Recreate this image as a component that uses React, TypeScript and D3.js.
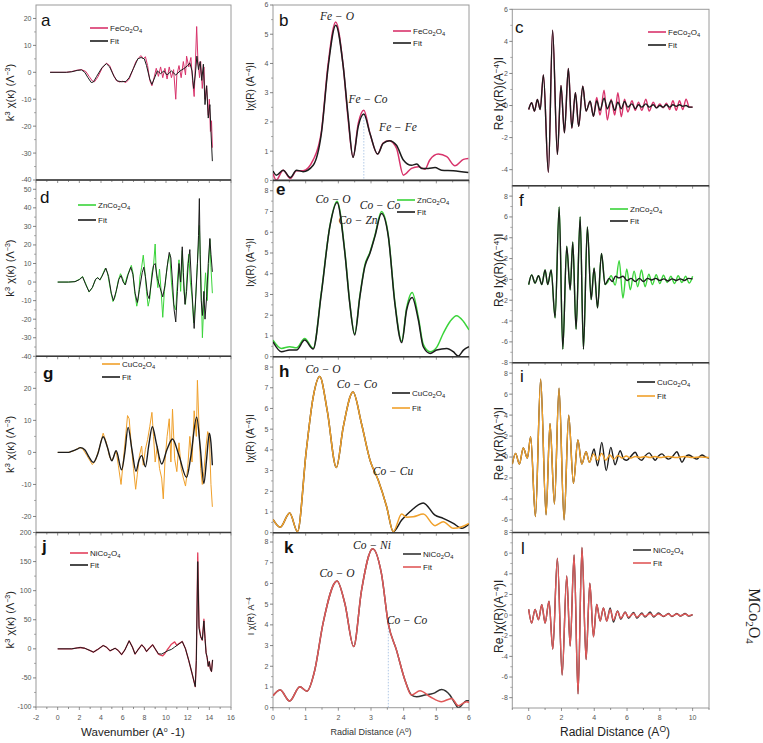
import React from "react";
import * as d3 from "d3";

type Pt = [number, number];

// ---------------- k-space  k^3 chi(k) ----------------
const feK: Pt[] = [[-0.7,0],[0.8,0],[1.3,0.3],[1.8,0.8],[2.2,1.0],[2.6,0.3],[2.9,-1.5],[3.2,-3.2],[3.4,-3.5],[3.7,-1.8],[4.1,1.5],[4.5,3.4],[4.8,2.5],[5.1,-0.5],[5.4,-3.0],[5.7,-3.6],[6.0,-3.3],[6.3,-3.8],[6.6,-2.5],[6.9,0.5],[7.2,3.8],[7.5,5.5],[7.7,6.2],[7.9,5.0],[8.1,5.8],[8.3,2.5],[8.5,-3.0],[8.7,-5.0],[8.9,-2.0],[9.1,1.5],[9.3,-1.5],[9.5,2.0],[9.7,-2.0],[9.9,1.5],[10.1,-2.5],[10.3,2.0],[10.5,-2.0],[10.7,1.0],[10.9,-10],[11.0,-1.0],[11.2,2.5],[11.4,-2.0],[11.6,4.0],[11.8,-1.0],[11.9,6.0],[12.1,2.0],[12.3,5.5],[12.45,-3],[12.6,-9],[12.7,2],[12.83,17],[12.95,4],[13.1,-2],[13.2,4],[13.35,-6],[13.5,2],[13.6,-10],[13.75,-5],[13.9,-16],[14.0,-10],[14.1,-22],[14.2,-18],[14.28,-28]];
const feKFit: Pt[] = [[-0.7,0],[0.8,0],[1.3,0.2],[1.8,0.7],[2.2,0.9],[2.5,0],[2.8,-2.0],[3.1,-3.8],[3.3,-3.6],[3.6,-1.5],[4.1,1.8],[4.5,3.2],[4.8,2.0],[5.2,-1.5],[5.5,-3.2],[5.9,-3.5],[6.3,-3.4],[6.6,-2.0],[7.0,1.5],[7.4,5.0],[7.7,5.5],[8.0,5.0],[8.2,2.5],[8.5,-2.5],[8.7,-4.5],[8.9,-2.5],[9.2,0.5],[9.5,-0.5],[9.8,0.5],[10.1,-1.0],[10.5,0.5],[10.9,-1.0],[11.3,0.5],[11.7,1.5],[12.0,2.5],[12.2,3.5],[12.4,0.5],[12.55,-6],[12.7,-1],[12.85,6],[13.0,1],[13.15,4],[13.3,-3],[13.45,3],[13.6,-12],[13.75,-5],[13.9,-17],[14.05,-12],[14.15,-22],[14.28,-33]];

const znK: Pt[] = [[0,0],[1.0,0],[1.6,0.3],[2.0,1.5],[2.3,3.0],[2.6,-1],[2.9,-5.4],[3.2,-3],[3.5,1.5],[3.7,2.5],[3.9,1.0],[4.1,3.5],[4.4,7.5],[4.6,5],[4.9,-5],[5.1,-10.5],[5.3,-8],[5.6,1],[5.8,4.5],[6.0,2],[6.2,-1.5],[6.4,3],[6.6,6],[6.8,9],[6.95,5],[7.1,-5],[7.3,-13],[7.45,-9],[7.6,3],[7.75,8],[7.9,14.5],[8.05,6],[8.2,-5],[8.35,-13],[8.5,-9],[8.7,5],[8.85,9],[9.0,20.5],[9.1,5],[9.25,-3],[9.4,7],[9.55,-5],[9.7,-19],[9.85,-5],[10.0,3],[10.2,12],[10.35,15],[10.5,0],[10.7,-12],[10.9,-15],[11.05,0],[11.2,12],[11.35,-5],[11.5,17],[11.65,-5],[11.8,-12],[11.95,5],[12.1,15],[12.25,0],[12.4,-8],[12.55,-22],[12.7,-12],[12.85,5],[13.0,20],[13.08,30.5],[13.2,8],[13.36,-30],[13.5,-10],[13.65,5],[13.8,-10],[13.95,10],[14.05,23],[14.15,8],[14.28,-6]];
const znKFit: Pt[] = [[0,0],[1.0,0],[1.6,0.2],[2.0,1.3],[2.3,2.8],[2.6,-1.5],[2.9,-5.2],[3.2,-3],[3.5,1.5],[3.7,2.3],[3.9,1.2],[4.1,3.2],[4.45,7.5],[4.7,3],[4.95,-6],[5.15,-10],[5.4,-5],[5.65,1.5],[5.85,3.5],[6.05,0],[6.25,-1.5],[6.5,4],[6.75,8],[6.95,4],[7.15,-6],[7.35,-11],[7.55,-4],[7.8,5],[7.95,8],[8.1,3],[8.3,-7],[8.45,-9],[8.65,0],[8.85,9],[9.0,10],[9.2,2],[9.45,-3],[9.7,-8],[9.9,-2],[10.1,8],[10.3,16],[10.45,13],[10.6,0],[10.75,-15],[10.9,-21.5],[11.05,-5],[11.2,10],[11.35,0],[11.5,19],[11.6,5],[11.75,-12],[11.9,-5],[12.05,10],[12.2,17.5],[12.35,0],[12.5,-15],[12.6,-25],[12.75,-8],[12.9,10],[13.0,25],[13.08,45],[13.15,15],[13.25,-10],[13.36,-18],[13.5,-5],[13.6,-20],[13.75,-8],[13.9,10],[14.05,23.5],[14.15,15],[14.28,5.5]];

const cuK: Pt[] = [[0,0],[1.0,0],[1.5,0.5],[2.0,1.5],[2.3,1.2],[2.7,-1],[3.2,-3.8],[3.5,-2.5],[3.9,2],[4.2,6],[4.5,3],[4.8,-1.5],[5.0,-2.5],[5.2,-1],[5.4,0.5],[5.6,-4],[5.85,-10],[6.05,-3],[6.3,6],[6.45,11.5],[6.6,10.5],[6.8,2],[7.0,-5],[7.2,-11.5],[7.35,-7],[7.55,-1],[7.75,2],[7.9,-4],[8.1,1],[8.3,4],[8.5,8],[8.7,12.5],[8.85,5],[9.0,-3],[9.2,2],[9.4,-5],[9.6,-8],[9.75,-14.5],[9.9,-3],[10.1,5],[10.3,10.5],[10.45,-3],[10.6,13.5],[10.8,-2],[11.0,-6],[11.2,3],[11.4,-5],[11.6,-8],[11.8,-10.5],[12.0,-5],[12.2,5],[12.4,-3],[12.6,13],[12.8,5],[12.9,22.5],[13.05,8],[13.2,-5],[13.35,-10],[13.5,-6],[13.7,2],[13.85,6.5],[14.0,5],[14.15,-10],[14.28,-17]];
const cuKFit: Pt[] = [[0,0],[1.0,0],[1.4,0.5],[1.8,1.0],[2.1,1.5],[2.5,0.8],[2.9,-1.5],[3.3,-3.1],[3.7,-0.5],[4.2,4.9],[4.6,1.5],[5.0,-2.6],[5.4,0.5],[5.9,-5.4],[6.2,0],[6.5,7.8],[6.85,1],[7.23,-5.9],[7.5,-2.5],[7.76,-1],[8.1,-4.5],[8.4,2],[8.74,8],[9.1,3],[9.6,-3.6],[10.1,1],[10.6,4.2],[11.2,-1],[11.9,-7.8],[12.3,-1],[12.83,11],[13.15,2],[13.5,-9.7],[13.75,-2],[14.0,6],[14.15,3],[14.28,-4]];

const niK: Pt[] = [[0,0],[1.3,0],[1.8,1.5],[2.1,2.3],[2.5,1],[3.0,-3],[3.3,-5.7],[3.7,-1],[4.2,5.7],[4.5,3],[4.83,-3.4],[5.3,1],[5.6,-3],[5.9,-10],[6.2,-2],[6.6,13.8],[6.9,3],[7.14,-9],[7.4,-2],[7.76,6.9],[8.0,2],[8.2,-4.6],[8.5,2],[8.77,6.9],[9.0,0],[9.3,-9],[9.5,-11],[9.7,-12],[9.9,-8],[10.1,-2],[10.3,3],[10.5,8],[10.8,12],[11.0,6],[11.2,9],[11.5,12.6],[11.8,0],[12.1,-20],[12.4,-42],[12.7,-65],[12.8,-20],[12.93,165],[13.05,40],[13.2,21],[13.35,15],[13.5,51],[13.6,20],[13.7,-7],[13.8,-15],[13.9,-30],[14.0,-22],[14.1,-35],[14.2,-39],[14.3,-19]];
const niKFit: Pt[] = [[0,0],[1.3,0],[1.8,1.5],[2.1,2.3],[2.5,1],[3.0,-3],[3.3,-5.7],[3.7,-1],[4.2,5.7],[4.5,3],[4.83,-3.4],[5.3,1],[5.6,-3],[5.9,-10],[6.2,-2],[6.6,13.8],[6.9,3],[7.14,-9],[7.4,-2],[7.76,6.9],[8.0,2],[8.2,-4.6],[8.5,2],[8.77,6.9],[9.0,0],[9.3,-8.6],[9.6,-9],[9.9,-6],[10.2,-3],[10.5,-1],[10.8,3],[11.1,7],[11.5,12.6],[11.8,0],[12.1,-20],[12.4,-42],[12.7,-65],[12.8,-20],[12.93,150],[13.05,35],[13.2,21],[13.35,15],[13.5,48],[13.6,18],[13.7,-7],[13.8,-15],[13.9,-30],[14.0,-22],[14.1,-35],[14.2,-39],[14.3,-19]];

// ---------------- |chi(R)| ----------------
const feR: Pt[] = [[0,0.24],[0.1,0.01],[0.31,0.35],[0.53,0.07],[0.72,0.33],[0.92,0.33],[1.23,0.7],[1.48,1.66],[1.69,4.0],[1.92,5.42],[2.15,3.9],[2.3,2.1],[2.45,0.79],[2.61,1.95],[2.78,2.4],[2.97,1.6],[3.2,0.9],[3.37,1.28],[3.56,1.36],[3.78,1.1],[3.99,0.18],[4.24,0.41],[4.45,0.47],[4.65,0.38],[4.8,0.7],[5.06,0.9],[5.32,0.81],[5.57,0.5],[5.83,0.72],[5.98,0.75]];
const feRFit: Pt[] = [[0,0.32],[0.1,0.18],[0.31,0.35],[0.53,0.1],[0.72,0.35],[0.92,0.3],[1.23,0.52],[1.48,1.6],[1.69,3.9],[1.92,5.31],[2.15,3.9],[2.3,2.2],[2.45,0.79],[2.61,1.85],[2.78,2.27],[2.97,1.6],[3.2,0.9],[3.37,1.26],[3.56,1.36],[3.78,1.2],[3.99,0.7],[4.24,0.52],[4.4,0.56],[4.55,0.41],[4.75,0.41],[4.96,0.44],[5.16,0.35],[5.52,0.33],[5.98,0.27]];

const znR: Pt[] = [[0,0.8],[0.26,0.4],[0.51,0.48],[0.72,0.43],[0.97,0.88],[1.23,0.4],[1.48,3.1],[1.74,6.3],[1.96,7.5],[2.2,5.05],[2.35,2.6],[2.5,1.1],[2.66,2.95],[2.81,4.4],[2.97,5.05],[3.12,5.85],[3.32,7.0],[3.53,5.85],[3.73,2.65],[3.94,0.75],[4.09,2.35],[4.26,3.1],[4.45,1.9],[4.6,0.6],[4.81,0.24],[5.01,0.45],[5.21,1.12],[5.42,1.7],[5.62,1.98],[5.83,1.7],[6,1.29]];
const znRFit: Pt[] = [[0,0.72],[0.26,0.24],[0.51,0.32],[0.72,0.32],[0.97,0.8],[1.23,0.37],[1.48,3.05],[1.74,6.27],[1.96,7.44],[2.2,5.0],[2.35,2.57],[2.5,1.05],[2.66,2.9],[2.81,4.34],[2.97,5.0],[3.12,5.8],[3.32,6.9],[3.53,5.8],[3.73,2.57],[3.94,0.68],[4.09,2.25],[4.26,2.86],[4.45,1.77],[4.6,0.48],[4.81,0.16],[5.01,0.32],[5.32,0.4],[5.52,0.24],[5.67,0.03],[5.83,0.32],[6,0.48]];

const cuR: Pt[] = [[0,0.64],[0.22,0.26],[0.51,0.95],[0.75,0.05],[1.02,3.98],[1.23,6.55],[1.43,7.54],[1.66,5.9],[1.94,3.15],[2.15,5.1],[2.45,6.79],[2.71,5.26],[2.97,3.5],[3.22,2.54],[3.48,1.25],[3.68,0.05],[3.94,0.61],[4.19,1.01],[4.6,1.44],[4.96,0.85],[5.21,0.69],[5.52,0.45],[5.78,0.21],[6,0.42]];
const cuRFit: Pt[] = [[0,0.64],[0.22,0.26],[0.51,0.95],[0.75,0.05],[1.02,3.98],[1.23,6.55],[1.43,7.54],[1.66,5.9],[1.94,3.15],[2.15,5.1],[2.45,6.79],[2.71,5.26],[2.97,3.5],[3.22,2.54],[3.48,1.25],[3.68,0.05],[3.94,0.9],[4.09,0.75],[4.29,0.77],[4.6,0.9],[4.96,0.34],[5.21,0.53],[5.52,0.21],[5.78,0.29],[6,0.45]];

const niR: Pt[] = [[0,0.58],[0.22,0.85],[0.51,0.32],[0.82,1.01],[1.04,0.8],[1.28,1.82],[1.53,4.06],[1.96,6.12],[2.2,5.03],[2.47,2.95],[2.71,5.67],[3.05,7.68],[3.32,6.47],[3.53,4.06],[3.78,2.78],[4.04,1.33],[4.24,0.61],[4.4,0.53],[4.65,0.61],[4.91,0.69],[5.16,0.88],[5.42,0.6],[5.57,0.21],[5.67,0.0],[5.93,0.34],[6,0.34]];
const niRFit: Pt[] = [[0,0.58],[0.22,0.85],[0.51,0.32],[0.82,1.01],[1.04,0.8],[1.28,1.82],[1.53,4.06],[1.96,6.12],[2.2,5.03],[2.47,2.95],[2.71,5.67],[3.05,7.68],[3.32,6.47],[3.53,4.06],[3.78,2.78],[4.04,1.33],[4.24,0.61],[4.5,0.82],[4.81,0.53],[5.16,0.29],[5.47,0.45],[5.67,0.1],[5.93,0.29],[6,0.24]];

// ---------------- Re chi(R) ----------------
const feReHead: Pt[] = [[0,-0.25],[0.18,0.17],[0.35,-0.35],[0.53,0.38],[0.7,-0.25],[0.9,1.9],[1.2,-4.17],[1.46,4.7],[1.75,-3.06],[1.97,1.25],[2.18,-1.7],[2.42,2.31],[2.63,-1.4],[2.85,0.8],[3.05,-1.3],[3.3,1.2],[3.5,-0.35],[3.75,0.27],[3.95,-0.67]];
const feRe: Pt[] = [...feReHead,[4.15,0.5],[4.35,-0.6],[4.6,0.95],[4.8,-0.9],[5.03,0.4],[5.25,-0.6],[5.44,0.8],[5.65,-0.7],[5.85,0.4],[6.05,-0.4],[6.3,0.3],[6.5,-0.3],[6.7,0.2],[6.9,-0.3],[7.15,0.4],[7.35,-0.35],[7.6,0.2],[7.8,-0.15],[8.0,0.1],[8.2,-0.15],[8.4,0.15],[8.6,-0.25],[8.8,0.3],[9.0,-0.3],[9.2,0.3],[9.4,-0.25],[9.6,0.4],[9.8,-0.1],[10,-0.1]];
const feReFit: Pt[] = [...feReHead,[4.15,0.3],[4.35,-0.3],[4.6,0.45],[4.8,-0.2],[5.03,0.3],[5.25,-0.3],[5.44,0.2],[5.65,-0.2],[5.85,0.25],[6.05,-0.1],[6.3,0.1],[6.5,-0.2],[6.7,0.05],[6.9,-0.1],[7.15,0.1],[7.35,-0.1],[7.6,0.05],[7.8,-0.15],[8.0,0.0],[8.2,-0.1],[8.4,0.05],[8.6,-0.1],[8.8,0.05],[9.0,-0.05],[9.2,0.05],[9.4,-0.05],[9.6,0.0],[9.8,-0.1],[10,-0.1]];

const znReHead: Pt[] = [[0,-0.5],[0.18,0.44],[0.39,-0.35],[0.6,0.35],[0.8,-0.5],[1.0,0.92],[1.16,-0.5],[1.37,0.92],[1.61,-3.68],[1.86,6.95],[2.08,-6.7],[2.32,3.2],[2.53,-1.0],[2.69,3.6],[2.89,-4.8],[3.14,6.0],[3.34,-6.7],[3.58,5.05],[3.81,-1.94],[3.99,1.08],[4.2,-2.73],[4.44,2.5],[4.66,-0.5]];
const znRe: Pt[] = [...znReHead,[4.8,-0.3],[5.03,0.35],[5.28,-0.55],[5.52,1.8],[5.75,-1.8],[5.98,1.0],[6.2,-1.0],[6.43,0.8],[6.65,-0.7],[6.88,0.9],[7.1,-0.7],[7.33,0.5],[7.55,-0.5],[7.78,0.45],[8.0,-0.4],[8.22,0.4],[8.45,-0.3],[8.67,0.3],[8.9,-0.4],[9.12,0.35],[9.35,-0.3],[9.57,0.3],[9.8,-0.35],[10,0.3]];
const znReFit: Pt[] = [...znReHead,[4.9,0.1],[5.1,-0.2],[5.3,0.3],[5.5,0.15],[5.75,0.3],[6.0,-0.1],[6.25,0.1],[6.5,-0.2],[6.75,0.1],[7.0,-0.2],[7.25,0.1],[7.5,-0.05],[7.75,0.1],[8.0,-0.1],[8.25,0.05],[8.5,-0.15],[8.75,0.05],[9.0,-0.1],[9.25,0.05],[9.5,-0.1],[9.75,0.1],[10,0.05]];

const cuReHead: Pt[] = [[-1,-0.67],[-0.8,0.35],[-0.57,-0.67],[-0.33,0.86],[-0.08,-0.1],[0.12,1.94],[0.41,-5.68],[0.73,7.43],[1.06,-5.5],[1.3,3.2],[1.57,-4.48],[1.85,6.57],[2.16,-6.0],[2.44,4.0],[2.73,-2.5],[3.0,1.62],[3.24,-0.67],[3.5,0.5],[3.71,-0.5]];
const cuRe: Pt[] = [...cuReHead,[3.99,0.76],[4.2,-0.83],[4.46,1.4],[4.73,-1.3],[5.01,0.92],[5.27,-0.73],[5.58,0.6],[5.8,-0.2],[5.99,-0.3],[6.25,0.1],[6.5,0.45],[6.7,-0.1],[6.9,-0.3],[7.1,0.1],[7.35,0.4],[7.55,0.0],[7.72,-0.3],[7.92,0.1],[8.13,0.3],[8.33,0.0],[8.53,-0.2],[8.8,0.1],[9.04,0.5],[9.2,0.0],[9.35,-0.5],[9.55,0.0],[9.76,0.2],[10.0,0.0],[10.26,-0.2],[10.4,0.0],[10.57,0.2],[10.8,0.0],[11,-0.1]];
const cuReFit: Pt[] = [...cuReHead,[3.95,0.3],[4.2,-0.3],[4.45,0.35],[4.7,-0.3],[4.95,0.2],[5.2,-0.2],[5.45,0.15],[5.7,-0.1],[5.95,0.1],[6.2,-0.1],[6.5,0.05],[6.8,-0.05],[7.1,0.05],[7.4,-0.05],[7.7,0.05],[8.0,-0.05],[8.5,0.05],[9.0,-0.05],[9.5,0.05],[10.0,-0.05],[10.5,0.0],[11,-0.05]];

const niReHead: Pt[] = [[0,0.55],[0.18,-0.77],[0.39,0.55],[0.6,-0.45],[0.8,1.0],[1.0,-0.77],[1.24,1.35],[1.47,-3.3],[1.75,5.5],[2.04,-5.8],[2.32,3.8],[2.53,-3.0],[2.77,5.83],[3.01,-7.63],[3.25,6.54],[3.5,-4.3],[3.73,3.08],[3.95,-2.1],[4.15,1.03],[4.36,-0.58],[4.56,0.7],[4.76,-0.58]];
const niRe: Pt[] = [...niReHead,[4.97,0.7],[5.17,-0.67],[5.42,0.4],[5.62,-0.4],[5.89,0.3],[6.09,-0.3],[6.4,0.25],[6.6,-0.3],[6.9,0.2],[7.1,-0.2],[7.41,0.3],[7.62,-0.2],[7.92,0.2],[8.23,-0.15],[8.53,0.15],[8.74,-0.15],[9.04,0.15],[9.25,-0.1],[9.55,0.15],[9.76,-0.1],[10,0.05]];
const niReFit: Pt[] = [...niReHead,[4.97,0.55],[5.17,-0.5],[5.42,0.35],[5.62,-0.3],[5.89,0.25],[6.09,-0.2],[6.4,0.15],[6.6,-0.2],[6.9,0.1],[7.1,-0.1],[7.41,0.15],[7.62,-0.1],[7.92,0.1],[8.23,-0.1],[8.53,0.1],[8.74,-0.1],[9.04,0.1],[9.25,-0.05],[9.55,0.1],[9.76,-0.05],[10,0.05]];

// ---------------- tick labels ----------------
const kTickLabels = [-2, 0, 2, 4, 6, 8, 10, 12, 14, 16];
const r6TickLabels = [0, 1, 2, 3, 4, 5, 6];
const r10TickLabels = [0, 2, 4, 6, 8, 10];

// ---------------- styling / layout ----------------
const FE = "#d8336b";
const ZN = "#3ad43a";
const CU = "#f0a02a";
const NI = "#e2405c";
const NIF = "#e05858";
const BK = "#1c1c1c";
const SANS = "'Liberation Sans', Arial, sans-serif";
const SERIF = "'Liberation Serif', 'Times New Roman', serif";

type Col = { r: [number, number]; dom: [number, number]; major: number[]; minorStep: number };
const cols: Col[] = [
  { r: [36, 231], dom: [-2, 16], major: kTickLabels, minorStep: 1 },
  { r: [273, 469], dom: [0, 6], major: r6TickLabels, minorStep: 0.5 },
  { r: [512.3, 709], dom: [-1, 11], major: r10TickLabels, minorStep: 1 },
];

type Series = { d: Pt[]; c: string; w: number; smooth: boolean };
type Panel = {
  id: string; col: number; top: number; bottom: number; yDom: [number, number]; yTicks: number[];
  letter: [number, number]; bold: boolean; series: Series[];
  legend: { x: number; y: number; dy: number; items: { t: string; c: string }[] };
  notes?: { t: string; x: number; y: number }[];
  guide?: Pt;
};

const panels: Panel[] = [
  { id: "a", col: 0, top: 5, bottom: 180, yDom: [-40, 25], yTicks: [-40, -30, -20, -10, 0, 10, 20], letter: [41, 26], bold: false,
    series: [{ d: feK, c: FE, w: 1, smooth: false }, { d: feKFit, c: BK, w: 1, smooth: false }],
    legend: { x: 90, y: 28, dy: 13, items: [{ t: "FeCo_2O_4", c: FE }, { t: "Fit", c: BK }] } },
  { id: "d", col: 0, top: 180, bottom: 356.3, yDom: [-40, 55], yTicks: [-40, -30, -20, -10, 0, 10, 20, 30, 40, 50], letter: [40, 203], bold: false,
    series: [{ d: znK, c: ZN, w: 1, smooth: false }, { d: znKFit, c: BK, w: 1, smooth: false }],
    legend: { x: 78, y: 205, dy: 15, items: [{ t: "ZnCo_2O_4", c: ZN }, { t: "Fit", c: BK }] } },
  { id: "g", col: 0, top: 356.3, bottom: 532.5, yDom: [-25, 30], yTicks: [-20, -10, 0, 10, 20], letter: [43, 379], bold: true,
    series: [{ d: cuK, c: CU, w: 1, smooth: false }, { d: cuKFit, c: BK, w: 1.4, smooth: true }],
    legend: { x: 102, y: 364, dy: 13, items: [{ t: "CuCo_2O_4", c: CU }, { t: "Fit", c: BK }] } },
  { id: "j", col: 0, top: 532.5, bottom: 707, yDom: [-100, 200], yTicks: [-100, -50, 0, 50, 100, 150, 200], letter: [42, 552], bold: true,
    series: [{ d: niK, c: NI, w: 1.3, smooth: false }, { d: niKFit, c: BK, w: 1, smooth: false }],
    legend: { x: 70, y: 553, dy: 12, items: [{ t: "NiCo_2O_4", c: NI }, { t: "Fit", c: BK }] } },

  { id: "b", col: 1, top: 5, bottom: 180.4, yDom: [0, 6], yTicks: [0, 1, 2, 3, 4, 5, 6], letter: [279, 26], bold: false,
    series: [{ d: feR, c: FE, w: 1.5, smooth: true }, { d: feRFit, c: BK, w: 1.5, smooth: true }],
    legend: { x: 393, y: 31, dy: 12, items: [{ t: "FeCo_2O_4", c: FE }, { t: "Fit", c: BK }] },
    notes: [{ t: "Fe − O", x: 337, y: 20 }, { t: "Fe − Co", x: 368, y: 103 }, { t: "Fe − Fe", x: 398, y: 131 }], guide: [2.78, 2.27] },
  { id: "e", col: 1, top: 180.4, bottom: 356.7, yDom: [0, 8.5], yTicks: [0, 1, 2, 3, 4, 5, 6, 7, 8], letter: [276, 195], bold: true,
    series: [{ d: znR, c: ZN, w: 1.5, smooth: true }, { d: znRFit, c: BK, w: 1.5, smooth: true }],
    legend: { x: 397, y: 200, dy: 12, items: [{ t: "ZnCo_2O_4", c: ZN }, { t: "Fit", c: BK }] },
    notes: [{ t: "Co − O", x: 333, y: 203 }, { t: "Co − Co", x: 380, y: 209 }, { t: "Co − Zn", x: 358, y: 224 }] },
  { id: "h", col: 1, top: 356.7, bottom: 532.7, yDom: [0, 8.5], yTicks: [0, 1, 2, 3, 4, 5, 6, 7, 8], letter: [279, 377], bold: true,
    series: [{ d: cuR, c: BK, w: 1.5, smooth: true }, { d: cuRFit, c: CU, w: 1.5, smooth: true }],
    legend: { x: 392, y: 393, dy: 15, items: [{ t: "CuCo_2O_4", c: BK }, { t: "Fit", c: CU }] },
    notes: [{ t: "Co − O", x: 323, y: 373 }, { t: "Co − Co", x: 357, y: 388 }, { t: "Co − Cu", x: 393, y: 475 }] },
  { id: "k", col: 1, top: 532.7, bottom: 707.7, yDom: [0, 8.45], yTicks: [0, 1, 2, 3, 4, 5, 6, 7, 8], letter: [284, 553], bold: true,
    series: [{ d: niR, c: "#333", w: 1.5, smooth: true }, { d: niRFit, c: NIF, w: 1.5, smooth: true }],
    legend: { x: 403, y: 554, dy: 13, items: [{ t: "NiCo_2O_4", c: "#333" }, { t: "Fit", c: NIF }] },
    notes: [{ t: "Co − Ni", x: 372, y: 549 }, { t: "Co − O", x: 337, y: 577 }, { t: "Co − Co", x: 407, y: 624 }], guide: [3.53, 4.0] },

  { id: "c", col: 2, top: 9.3, bottom: 185.7, yDom: [-5, 6], yTicks: [-4, -2, 0, 2, 4, 6], letter: [515, 33], bold: false,
    series: [{ d: feRe, c: FE, w: 1.4, smooth: true }, { d: feReFit, c: BK, w: 1.4, smooth: true }],
    legend: { x: 648, y: 32, dy: 13, items: [{ t: "FeCo_2O_4", c: FE }, { t: "Fit", c: BK }] } },
  { id: "f", col: 2, top: 185.7, bottom: 362.7, yDom: [-8, 9], yTicks: [-8, -6, -4, -2, 0, 2, 4, 6, 8], letter: [519, 206], bold: false,
    series: [{ d: znRe, c: ZN, w: 1.4, smooth: true }, { d: znReFit, c: BK, w: 1.4, smooth: true }],
    legend: { x: 610, y: 209, dy: 12, items: [{ t: "ZnCo_2O_4", c: ZN }, { t: "Fit", c: BK }] } },
  { id: "i", col: 2, top: 362.7, bottom: 532.5, yDom: [-7.2, 9], yTicks: [-6, -4, -2, 0, 2, 4, 6, 8], letter: [520, 382], bold: false,
    series: [{ d: cuRe, c: BK, w: 1.4, smooth: true }, { d: cuReFit, c: CU, w: 1.4, smooth: true }],
    legend: { x: 637, y: 382, dy: 14, items: [{ t: "CuCo_2O_4", c: BK }, { t: "Fit", c: CU }] } },
  { id: "l", col: 2, top: 532.5, bottom: 708, yDom: [-9, 8], yTicks: [-8, -6, -4, -2, 0, 2, 4, 6, 8], letter: [521, 554], bold: false,
    series: [{ d: niRe, c: "#333", w: 1.4, smooth: true }, { d: niReFit, c: NIF, w: 1.4, smooth: true }],
    legend: { x: 633, y: 550, dy: 13, items: [{ t: "NiCo_2O_4", c: "#333" }, { t: "Fit", c: NIF }] } },
];

function Formula({ s }: { s: string }) {
  const parts = s.split(/_(\d)/);
  return (
    <>
      {parts.map((p, i) =>
        i % 2 === 1 ? (
          <tspan key={i} dy={2} fontSize="72%">{p}</tspan>
        ) : (
          <tspan key={i} dy={i > 0 ? -2 : 0}>{p}</tspan>
        )
      )}
    </>
  );
}

function PanelView({ p }: { p: Panel }) {
  const col = cols[p.col];
  const x = d3.scaleLinear().domain(col.dom).range(col.r);
  const y = d3.scaleLinear().domain(p.yDom).range([p.bottom, p.top]);
  const [x0, x1] = col.r;
  const step = p.yTicks[1] - p.yTicks[0];
  const yMinor = d3
    .range(p.yTicks[0] - step, p.yTicks[p.yTicks.length - 1] + step, step)
    .map((t) => t + step / 2)
    .filter((t) => t > p.yDom[0] && t < p.yDom[1]);
  const xMinor = d3.range(col.dom[0], col.dom[1] + 1e-6, col.minorStep);
  const clipId = `clip-${p.id}`;
  return (
    <g>
      <defs>
        <clipPath id={clipId}>
          <rect x={x0} y={p.top} width={x1 - x0} height={p.bottom - p.top} />
        </clipPath>
      </defs>
      <rect x={x0} y={p.top} width={x1 - x0} height={p.bottom - p.top} fill="none" stroke="#9a9a9a" strokeWidth={1} />
      {/* y ticks */}
      {p.yTicks.map((t) => (
        <g key={`yt${t}`}>
          <line x1={x0 - 3} x2={x0} y1={y(t)} y2={y(t)} stroke="#666" strokeWidth={0.8} />
          <text x={x0 - 4.5} y={y(t)} dy="0.35em" textAnchor="end" fontSize={7} fill="#555">
            {t}
          </text>
        </g>
      ))}
      {yMinor.map((t) => (
        <line key={`ym${t}`} x1={x0 - 2} x2={x0} y1={y(t)} y2={y(t)} stroke="#777" strokeWidth={0.6} />
      ))}
      {/* x ticks */}
      {xMinor.map((t) => {
        const major = col.major.includes(Math.round(t * 100) / 100);
        return (
          <line key={`xt${t}`} x1={x(t)} x2={x(t)} y1={p.bottom} y2={p.bottom + (major ? 3 : 2)} stroke="#666" strokeWidth={0.7} />
        );
      })}
      {/* guide */}
      {p.guide && (
        <line x1={x(p.guide[0])} x2={x(p.guide[0])} y1={y(p.guide[1])} y2={y(0)} stroke="#9dbbe0" strokeWidth={0.8} strokeDasharray="1.5 1.5" />
      )}
      {/* series */}
      <g clipPath={`url(#${clipId})`}>
        {p.series.map((s, i) => {
          const gen = d3
            .line<Pt>()
            .x((d) => x(d[0]))
            .y((d) => y(d[1]))
            .curve(s.smooth ? d3.curveMonotoneX : d3.curveLinear);
          return <path key={i} d={gen(s.d) || ""} fill="none" stroke={s.c} strokeWidth={s.w} strokeLinejoin="round" />;
        })}
      </g>
      {/* letter */}
      <text x={p.letter[0]} y={p.letter[1]} fontSize={17} fontWeight={p.bold ? 700 : 400} fill="#111">
        {p.id}
      </text>
      {/* legend */}
      {p.legend.items.map((it, i) => (
        <g key={`lg${i}`}>
          <line x1={p.legend.x} x2={p.legend.x + 18} y1={p.legend.y + i * p.legend.dy} y2={p.legend.y + i * p.legend.dy} stroke={it.c} strokeWidth={1.6} />
          <text x={p.legend.x + 20} y={p.legend.y + i * p.legend.dy + 3} fontSize={8} fill="#222">
            <Formula s={it.t} />
          </text>
        </g>
      ))}
      {/* annotations */}
      {p.notes &&
        p.notes.map((n, i) => (
          <text key={`n${i}`} x={n.x} y={n.y} textAnchor="middle" fontFamily={SERIF} fontStyle="italic" fontSize={11.5} fill="#222">
            {n.t}
          </text>
        ))}
    </g>
  );
}

function BottomLabels({ ci }: { ci: number }) {
  const col = cols[ci];
  const x = d3.scaleLinear().domain(col.dom).range(col.r);
  return (
    <g>
      {col.major.map((t) => (
        <text key={t} x={x(t)} y={719.5} textAnchor="middle" fontSize={7} fill="#555">
          {t}
        </text>
      ))}
    </g>
  );
}

export default function App() {
  const sepLines: { x0: number; x1: number; y: number }[] = [];
  panels.forEach((p) => {
    const col = cols[p.col];
    const isTop = !panels.some((q) => q.col === p.col && q.bottom <= p.top + 0.5 && q !== p);
    if (!isTop) sepLines.push({ x0: col.r[0], x1: col.r[1], y: p.top });
  });
  const c0y = (id: string) => {
    const p = panels.find((q) => q.id === id)!;
    return (p.top + p.bottom) / 2;
  };
  return (
    <svg width={763} height={743} style={{ position: "absolute", left: 0, top: 0, background: "#fff" }} fontFamily={SANS}>
      <rect width={763} height={743} fill="#fff" />
      {panels.map((p) => (
        <PanelView key={p.id} p={p} />
      ))}
      {sepLines.map((s, i) => (
        <line key={i} x1={s.x0} x2={s.x1} y1={s.y} y2={s.y} stroke="#3a3a3a" strokeWidth={1.6} />
      ))}
      {[0, 1, 2].map((ci) => (
        <BottomLabels key={ci} ci={ci} />
      ))}

      {/* column 1 y-axis titles */}
      {["a", "d", "g", "j"].map((id) => (
        <text key={id} transform={`translate(14,${c0y(id)}) rotate(-90)`} textAnchor="middle" fontSize={11} fill="#222">
          k<tspan dy={-4} fontSize={8}>3</tspan>
          <tspan dy={4}> χ(κ) (Λ</tspan>
          <tspan dy={-4} fontSize={7}>−3</tspan>
          <tspan dy={4}>)</tspan>
        </text>
      ))}
      {/* column 2 y-axis titles */}
      {["b", "e", "h"].map((id) => (
        <text key={id} transform={`translate(254,${c0y(id) - 6}) rotate(-90)`} textAnchor="middle" fontSize={10} fill="#222">
          Iχ(R) (A<tspan dy={-3.5} fontSize={7}>−4</tspan>
          <tspan dy={3.5}>)I</tspan>
        </text>
      ))}
      <text transform={`translate(254,${c0y("k") - 4}) rotate(-90)`} textAnchor="middle" fontSize={9} fill="#222">
        I χ(R) A<tspan dy={-3} fontSize={6.5}>−4</tspan>
      </text>
      {/* column 3 y-axis titles */}
      {["c", "f", "i", "l"].map((id) => (
        <text key={id} transform={`translate(503,${c0y(id) - 4}) rotate(-90)`} textAnchor="middle" fontSize={12} fill="#222">
          Re Iχ(R)(A<tspan dy={-4} fontSize={8}>−4</tspan>
          <tspan dy={4}>)I</tspan>
        </text>
      ))}

      {/* x-axis titles */}
      <text x={133} y={736} textAnchor="middle" fontSize={11.5} fill="#222">
        Wavenumber (A<tspan dy={-4} fontSize={7}>o</tspan>
        <tspan dy={4}> -1)</tspan>
      </text>
      <text x={371} y={735} textAnchor="middle" fontSize={9} fill="#333">
        Radial Distance (A<tspan dy={-3} fontSize={6.5}>o</tspan>
        <tspan dy={3}>)</tspan>
      </text>
      <text x={615} y={736} textAnchor="middle" fontSize={12} fill="#222">
        Radial Distance (A<tspan dy={-4} fontSize={8.5}>O</tspan>
        <tspan dy={4}>)</tspan>
      </text>

      {/* side label */}
      <text transform="translate(749,616) rotate(90)" textAnchor="middle" fontFamily={SERIF} fontSize={16} fill="#222">
        MCo<tspan dy={3} fontSize={11}>2</tspan>
        <tspan dy={-3}>O</tspan>
        <tspan dy={3} fontSize={11}>4</tspan>
      </text>
    </svg>
  );
}
